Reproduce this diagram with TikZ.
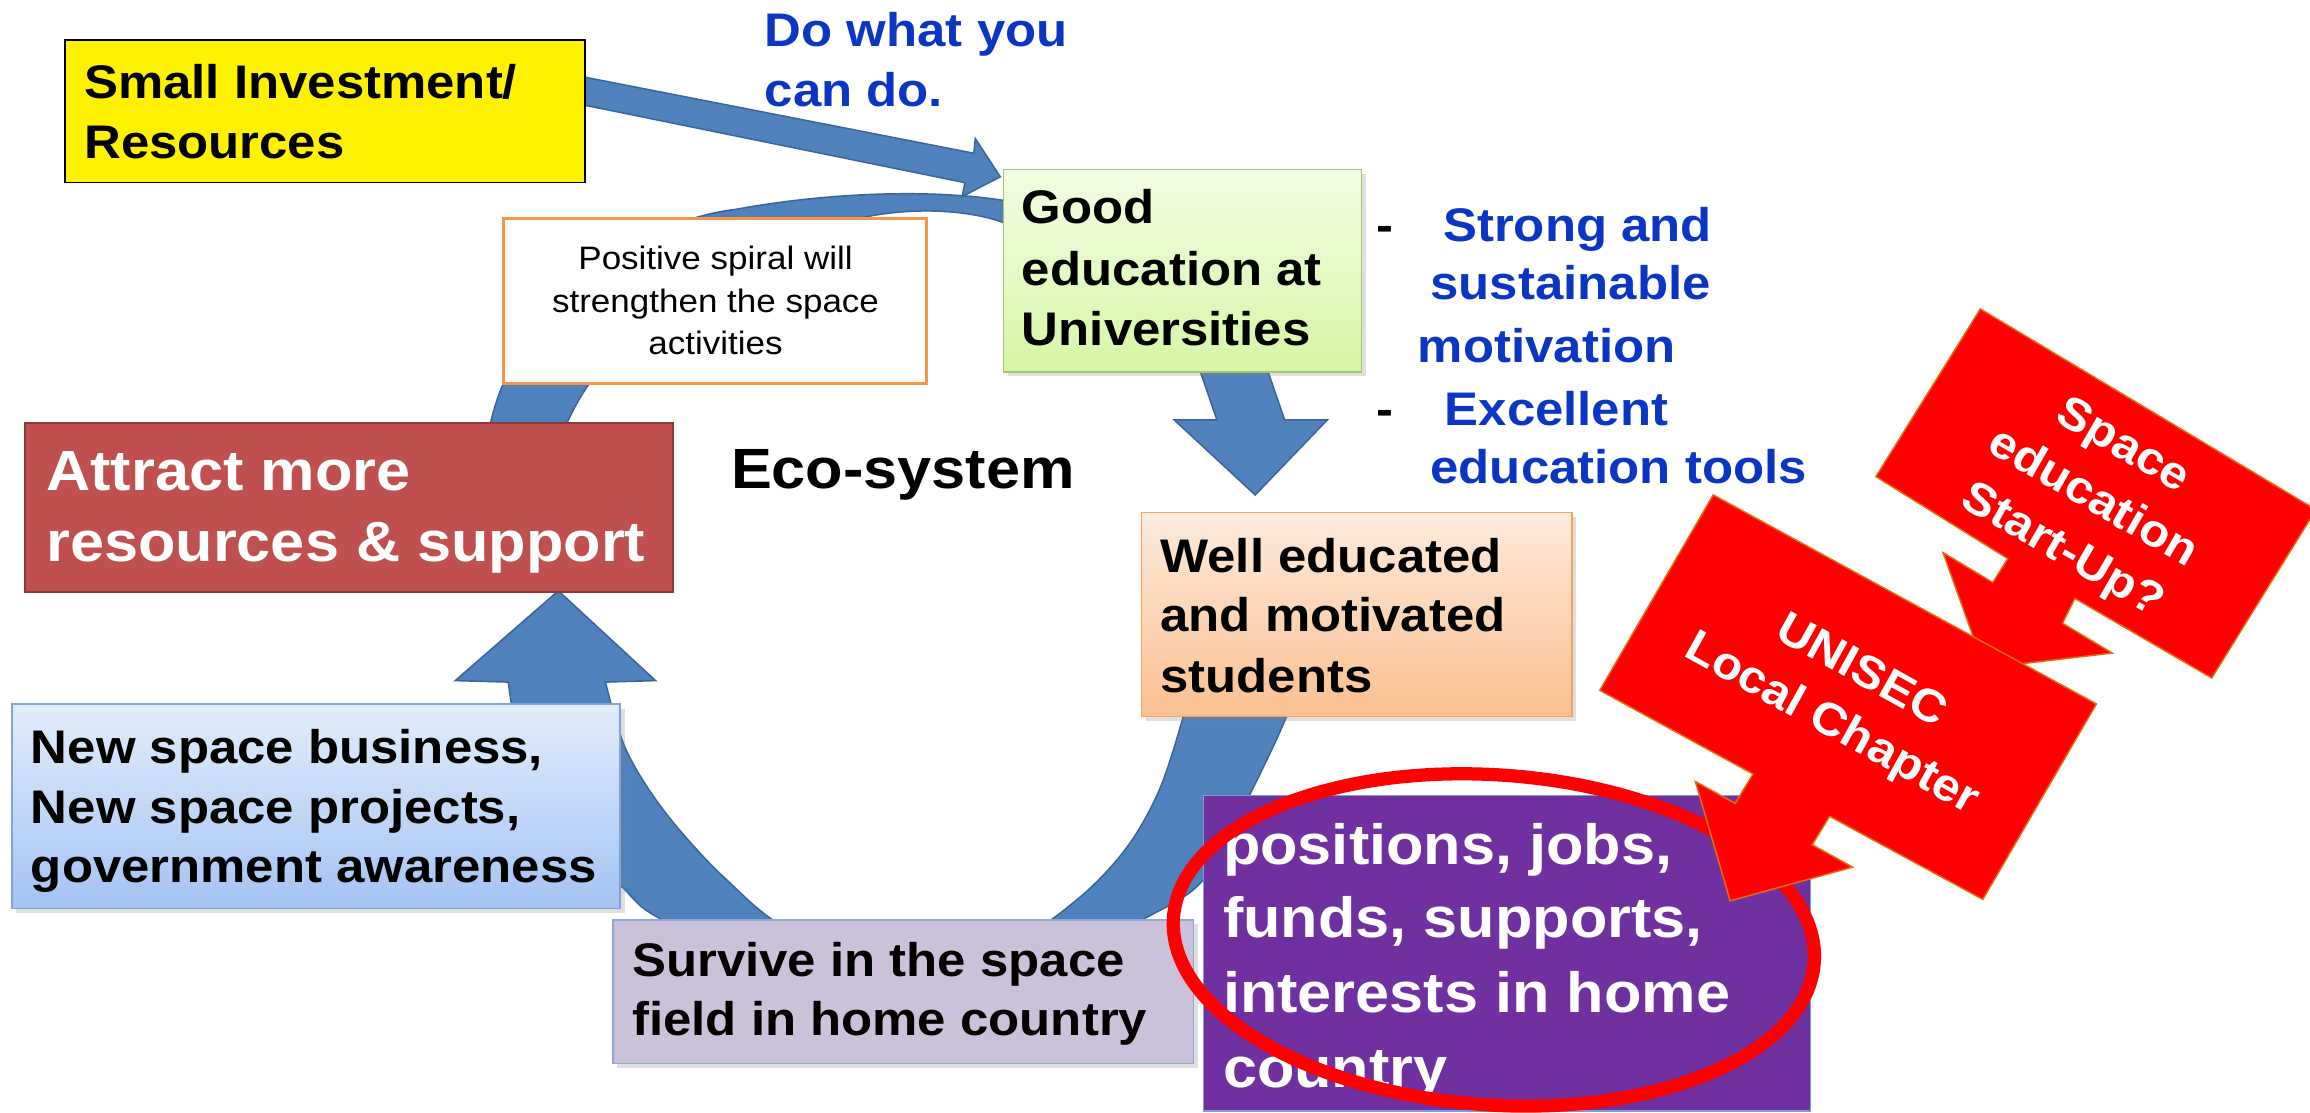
\documentclass[tikz,border=0pt]{standalone}
\usepackage{fontspec}
\setmainfont{Liberation Sans}[FakeStretch=1.08]
\usetikzlibrary{shadows}
\definecolor{bandblue}{HTML}{4F81BD}
\definecolor{bandedge}{HTML}{3A639A}
\definecolor{txtblue}{HTML}{0B36C4}
\definecolor{redbox}{HTML}{C0504D}
\definecolor{redboxedge}{HTML}{8C3A38}
\definecolor{spiralorange}{HTML}{F79646}
\definecolor{greentop}{HTML}{F3FDE4}
\definecolor{greenbot}{HTML}{D6F6A4}
\definecolor{greenedge}{HTML}{A3C56E}
\definecolor{orangetop}{HTML}{FDEBDD}
\definecolor{orangebot}{HTML}{FAC08F}
\definecolor{orangeedge}{HTML}{F6A25A}
\definecolor{bluetop}{HTML}{E2EDFC}
\definecolor{bluebot}{HTML}{A3C3F2}
\definecolor{blueedge}{HTML}{7FA4D6}
\definecolor{lavender}{HTML}{CCC1DA}
\definecolor{lavedge}{HTML}{8FA8D4}
\definecolor{purplebox}{HTML}{7030A0}
\definecolor{purpleedge}{HTML}{7E9DD6}
\definecolor{arrowedge}{HTML}{E46C0A}
\newcommand\myfmain{\fontsize{32}{39}\selectfont\bfseries}
\newcommand\myfbig{\fontsize{38.5}{48}\selectfont\bfseries}
\newcommand\myfsmall{\fontsize{22}{29}\selectfont}
\newcommand\myfarrow{\fontsize{31}{41}\selectfont\bfseries}
\tikzset{
  band/.style={fill=bandblue, draw=bandedge, line width=1pt},
  redarrow/.style={fill=red, draw=arrowedge, line width=1pt, line join=miter},
  box/.style={rectangle, inner sep=0pt, line width=1pt},
  shad/.style={drop shadow={opacity=0.25, shadow xshift=3pt, shadow yshift=-3pt}},
  lbl/.style={inner sep=0pt, anchor=base west},
  clbl/.style={inner sep=0pt, anchor=base},
  arrowtxt/.style={inner sep=0pt, align=center, text=white, font=\myfarrow}
}
\begin{document}
\begin{tikzpicture}[x=1pt,y=-1pt]
\useasboundingbox (0,0) rectangle (1568,755);
\clip (0,0) rectangle (1568,755);
\fill[white] (0,0) rectangle (1568,755);

% top part of the cycle band
\filldraw[band] (331,300) -- (333,287) .. controls (350,210) and (430,150) .. (500,142)
  .. controls (560,131) and (630,128) .. (681,136) -- (692,139) -- (692,153) -- (681,151)
  .. controls (650,140) and (600,140) .. (560,155)
  .. controls (470,190) and (410,230) .. (385,287) -- (384,300) -- cycle;

% lower part of the cycle band with the up arrow head
\filldraw[band] plot[smooth, tension=0.55] coordinates {(876,470) (873,487) (849,538) (817,597) (776,624) (720,652) (620,670) (530,660) (447,623) (421,601) (383,568) (356,520) (345,463)}
  -- (309,462) -- (379,401) -- (445,462)
  -- plot[smooth, tension=0.55] coordinates {(411,463) (425,509) (452,552) (493,597) (540,633) (620,650) (690,637) (733,609) (765,575) (787,536) (803,487) (806,470)}
  -- cycle;

% down arrow from green to orange box
\filldraw[band] (815,245) -- (815,253) -- (826,285) -- (797,285) -- (852,336) -- (901,285) -- (872,285) -- (861,253) -- (861,245) -- cycle;

% arrow from small investment
\filldraw[band] (390,51) -- (661,104) -- (662,94) -- (679,120) -- (653,133.5) -- (655,124) -- (390,70) -- cycle;

% boxes
\node[box, fill=yellow, draw=black, minimum width=353pt, minimum height=97pt] (yellowbox) at (220.5,75.5) {};
\node[box, fill=white, draw=spiralorange, line width=2pt, minimum width=287pt, minimum height=112pt] (spiralbox) at (485.5,204.3) {};
\node[box, shad, top color=greentop, bottom color=greenbot, draw=greenedge, minimum width=243pt, minimum height=137.5pt] (greenbox) at (802.5,183.75) {};
\node[box, fill=redbox, draw=redboxedge, line width=1.5pt, minimum width=440pt, minimum height=114.6pt] (redboxn) at (237,344.3) {};
\node[box, shad, top color=bluetop, bottom color=bluebot, draw=blueedge, minimum width=413pt, minimum height=138.6pt] (bluebox) at (214.5,547.3) {};
\node[box, shad, fill=lavender, draw=lavedge, minimum width=394pt, minimum height=97.5pt] (survivebox) at (613,673.25) {};
\node[box, shad, top color=orangetop, bottom color=orangebot, draw=orangeedge, minimum width=292pt, minimum height=138.5pt] (orangebox) at (921,417.25) {};
\node[box, fill=purplebox, draw=purpleedge, minimum width=412pt, minimum height=214pt] (purplebox) at (1023,647) {};

% texts
\node[lbl] (tsmall1) at (57,66.8) {\myfmain Small Investment/};
\node[lbl] (tsmall2) at (57,107.5) {\myfmain Resources};
\node[lbl, text=txtblue] (tdo1) at (519,31.7) {\myfmain Do what you};
\node[lbl, text=txtblue] (tdo2) at (519,72.4) {\myfmain can do.};

\node[clbl] (tsp1) at (485.7,182.7) {\myfsmall Positive spiral will};
\node[clbl] (tsp2) at (485.7,212.2) {\myfsmall strengthen the space};
\node[clbl] (tsp3) at (485.7,240.9) {\myfsmall activities};

\node[lbl] (tgood1) at (693.5,152) {\myfmain Good};
\node[lbl] (tgood2) at (693.5,193.8) {\myfmain education at};
\node[lbl] (tgood3) at (693.5,234.5) {\myfmain Universities};

\node[lbl] (tdash1) at (934,163.7) {\myfmain -};
\node[lbl, text=txtblue] (tb1) at (979.4,163.7) {\myfmain Strong and};
\node[lbl, text=txtblue] (tb2) at (970.8,203.6) {\myfmain sustainable};
\node[lbl, text=txtblue] (tb3) at (962.3,246) {\myfmain motivation};
\node[lbl] (tdash2) at (934,288.5) {\myfmain -};
\node[lbl, text=txtblue] (tb4) at (980.5,288.5) {\myfmain Excellent};
\node[lbl, text=txtblue] (tb5) at (970.8,328.5) {\myfmain education tools};

\node[lbl, text=white] (tattr1) at (31.2,333.2) {\myfbig Attract more};
\node[lbl, text=white] (tattr2) at (31.2,381.4) {\myfbig resources \& support};
\node[lbl] (teco) at (496,331.7) {\myfbig Eco-system};

\node[lbl] (tnew1) at (20.8,518.3) {\myfmain New space business,};
\node[lbl] (tnew2) at (20.8,558.7) {\myfmain New space projects,};
\node[lbl] (tnew3) at (20.8,598.8) {\myfmain government awareness};

\node[lbl] (tsurv1) at (429,662.5) {\myfmain Survive in the space};
\node[lbl] (tsurv2) at (429,703) {\myfmain field in home country};

\node[lbl] (twell1) at (787.5,388.5) {\myfmain Well educated};
\node[lbl] (twell2) at (787.5,428.6) {\myfmain and motivated};
\node[lbl] (twell3) at (787.5,470.1) {\myfmain students};

\node[lbl, text=white] (tpos1) at (830,587) {\myfbig positions, jobs,};
\node[lbl, text=white] (tpos2) at (830,636.5) {\myfbig funds, supports,};
\node[lbl, text=white] (tpos3) at (830,687) {\myfbig interests in home};
\node[lbl, text=white] (tpos4) at (830,738) {\myfbig country};

% red oval
\draw[red, line width=9pt, rotate around={-4:(1014,638)}] (1014,638) ellipse [x radius=218, y radius=112];

% red callout arrows
\filldraw[redarrow] (1344.2,209.7) -- (1572,346) -- (1501.3,460.2) -- (1408.4,406.2) -- (1400,423.1) -- (1433.8,443.3) -- (1347,453.5) -- (1318.9,375.1) -- (1352.7,395.4) -- (1362.8,379.2) -- (1273.3,323.5) -- cycle;
\node[arrowtxt, rotate=-30] (tstart) at (1420,339) {Space\\education\\Start-Up?};

\filldraw[redarrow] (1162.9,335.9) -- (1423,477.8) -- (1345.9,610.5) -- (1241.9,554.1) -- (1230.1,573.4) -- (1257.5,588.6) -- (1174.4,611.5) -- (1150.8,530.5) -- (1177.8,545.3) -- (1189.9,525.4) -- (1085.9,468.6) -- cycle;
\node[arrowtxt, rotate=-29] (tunisec) at (1253,474.5) {UNISEC\\Local Chapter};
\end{tikzpicture}
\end{document}
